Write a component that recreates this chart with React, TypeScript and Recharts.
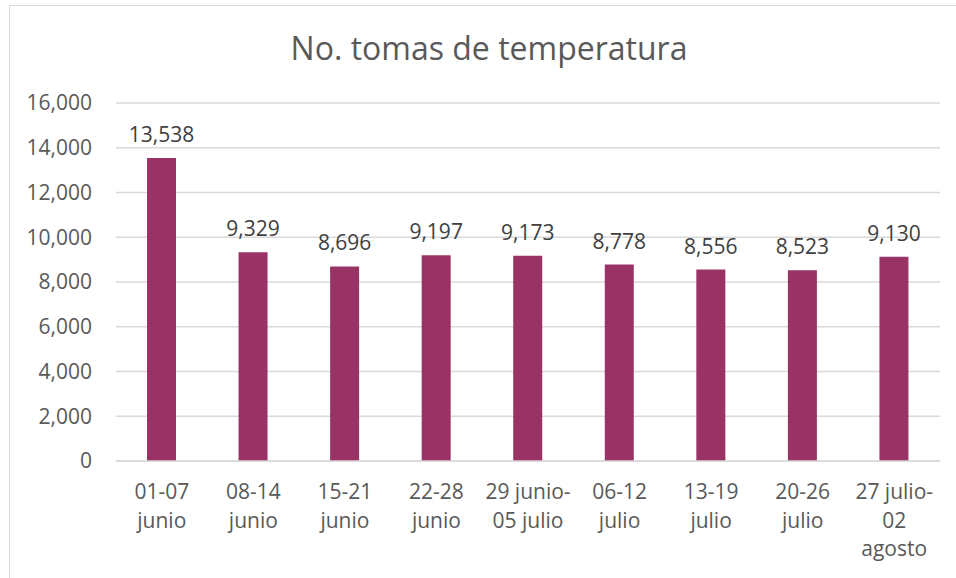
import { BarChart, Bar, XAxis, YAxis, CartesianGrid, LabelList } from "recharts";

const weeks = [
  "01-07\njunio",
  "08-14\njunio",
  "15-21\njunio",
  "22-28\njunio",
  "29 junio-\n05 julio",
  "06-12\njulio",
  "13-19\njulio",
  "20-26\njulio",
  "27 julio-\n02\nagosto",
];
const tomas = [13538, 9329, 8696, 9197, 9173, 8778, 8556, 8523, 9130];
const yTicks = [0, 2000, 4000, 6000, 8000, 10000, 12000, 14000, 16000];

const FONT = "'Open Sans', Calibri, sans-serif";
const fmt = (v: number) => v.toLocaleString("en-US");

const WeekTick = ({ x, y, payload }: any) => {
  const lines = String(payload.value).split("\n");
  return (
    <text x={x} y={y + 30} textAnchor="middle" fill="#595959" fontSize={21} fontFamily={FONT}>
      {lines.map((l, i) => (
        <tspan key={i} x={x} dy={i === 0 ? 0 : 28.5}>
          {l}
        </tspan>
      ))}
    </text>
  );
};

export default function App() {
  const data = weeks.map((w, i) => ({ week: w, tomas: tomas[i] }));

  return (
    <div style={{ position: "absolute", left: 0, top: 0, width: 956, height: 578, overflow: "hidden", background: "#fff" }}>
      <div
        style={{
          position: "absolute", left: 9, top: 5, width: 980, height: 620,
          border: "1.5px solid #d9d9d9", boxSizing: "border-box",
        }}
      />
      <div
        style={{
          position: "absolute", left: 0, top: 26, width: 978, textAlign: "center",
          fontFamily: FONT, fontSize: 32, color: "#595959", lineHeight: "44px",
        }}
      >
        No. tomas de temperatura
      </div>
      <div style={{ position: "absolute", left: 0, top: 0 }}>
        <BarChart width={956} height={578} data={data} margin={{ top: 103, right: 16, bottom: 0, left: 0 }}>
          <CartesianGrid vertical={false} stroke="#d9d9d9" strokeWidth={1.5} />
          <XAxis
            dataKey="week"
            height={117}
            interval={0}
            tickLine={false}
            axisLine={{ stroke: "#d9d9d9", strokeWidth: 1.5 }}
            tick={<WeekTick />}
          />
          <YAxis
            width={116}
            domain={[0, 16000]}
            ticks={yTicks}
            tickFormatter={fmt}
            axisLine={false}
            tickLine={false}
            tickMargin={18}
            tick={{ fill: "#595959", fontSize: 21, fontFamily: FONT }}
          />
          <Bar dataKey="tomas" fill="#993366" barSize={29} isAnimationActive={false}>
            <LabelList
              dataKey="tomas"
              position="top"
              offset={16}
              formatter={(v: any) => fmt(Number(v))}
              style={{ fill: "#404040", fontSize: 21, fontFamily: FONT }}
            />
          </Bar>
        </BarChart>
      </div>
    </div>
  );
}
